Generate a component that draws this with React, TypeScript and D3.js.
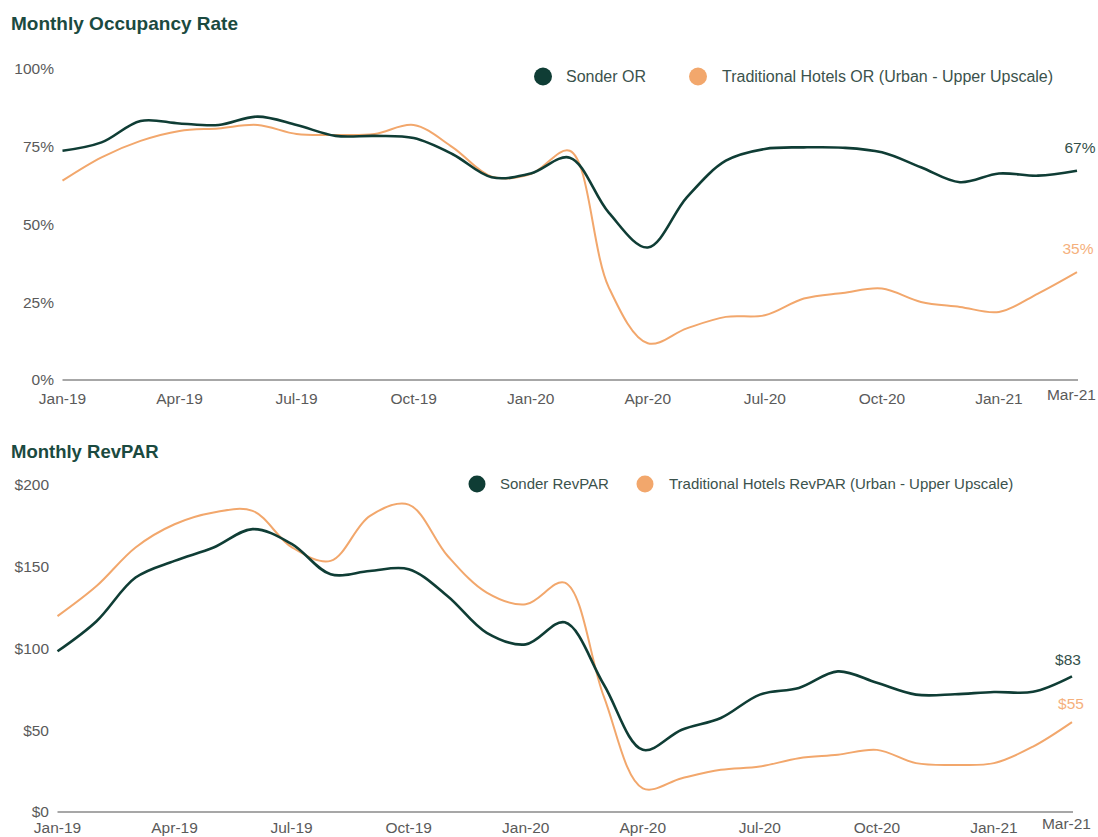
import React from 'react';
import * as d3 from 'd3';

const MONTHS = [
  'Jan-19', 'Feb-19', 'Mar-19', 'Apr-19', 'May-19', 'Jun-19', 'Jul-19', 'Aug-19', 'Sep-19',
  'Oct-19', 'Nov-19', 'Dec-19', 'Jan-20', 'Feb-20', 'Mar-20', 'Apr-20', 'May-20', 'Jun-20',
  'Jul-20', 'Aug-20', 'Sep-20', 'Oct-20', 'Nov-20', 'Dec-20', 'Jan-21', 'Feb-21', 'Mar-21',
];
const TICK_MONTHS = ['Jan-19', 'Apr-19', 'Jul-19', 'Oct-19', 'Jan-20', 'Apr-20', 'Jul-20', 'Oct-20', 'Jan-21', 'Mar-21'];

// occupancy rate, %
const SONDER_OR = [73.7, 76.4, 83.3, 82.5, 82, 84.7, 82, 78.5, 78.5, 77.8, 72.6, 65.2, 66.4, 71.5, 53.8, 42.6, 58.7, 70.5, 74.3, 74.8, 74.7, 73.2, 68.4, 63.6, 66.4, 65.7, 67.3];
const HOTELS_OR = [64.1, 71.6, 76.9, 80.1, 80.9, 82, 79.1, 78.8, 79.1, 82, 74.8, 65.4, 66.2, 73.7, 29.8, 11.8, 16.6, 20.3, 20.8, 26.2, 28, 29.4, 25.1, 23.5, 21.9, 27.8, 34.7];
const OR_TICKS = [0, 25, 50, 75, 100];

// RevPAR, $
const SONDER_REVPAR = [98.3, 116.7, 143.4, 153.6, 161.8, 173, 164, 145.4, 147.4, 148.5, 132, 109.6, 102.5, 116, 78, 38, 50.3, 57.5, 71.8, 75.9, 86, 79, 71.8, 72, 73.4, 73.5, 83];
const HOTELS_REVPAR = [119.8, 138.2, 161.8, 176, 183.2, 184.2, 162, 153.6, 181, 188, 156.6, 134.2, 127, 140.3, 70.7, 14.5, 20.7, 25.8, 27.8, 32.9, 35, 38, 29.9, 28.8, 29.9, 40, 55];
const REVPAR_TICKS = [0, 50, 100, 150, 200];

const DARK = '#0f3d35';
const ORANGE = '#f2a76c';
const FONT = '"Liberation Sans", Arial, Helvetica, sans-serif';

const Panel = ({ title, titleY, titleSize, xRange, yRange, yMax, yTicks, fmt, labelRight, monthDy, dark, light, legend, endLabels, lastLabelFmt }) => {
  const x = d3.scalePoint().domain(MONTHS).range(xRange);
  const y = d3.scaleLinear().domain([0, yMax]).range(yRange);
  const line = d3.line().x((d, i) => x(MONTHS[i])).y(d => y(d)).curve(d3.curveCatmullRom.alpha(0.5));
  const axisY = y(0);
  const lastX = x(MONTHS[MONTHS.length - 1]);

  return (
    <g>
      <text x={11} y={titleY} fontFamily={FONT} fontWeight="bold" fontSize={titleSize} fill="#1b4a40">{title}</text>

      {yTicks.map(t => (
        <text key={t} x={labelRight} y={y(t)} dy="0.35em" textAnchor="end" fontFamily={FONT} fontSize={15.5} fill="#5a5a5a">{fmt(t)}</text>
      ))}

      <line x1={xRange[0]} x2={xRange[1] + 1} y1={axisY} y2={axisY} stroke="#8a8a8a" strokeWidth={1.6} />

      {TICK_MONTHS.map(m => {
        const last = m === 'Mar-21';
        return (
          <text key={m} x={last ? x(m) + 19 : x(m)} y={axisY + (last ? monthDy - 4 : monthDy)} dy="0.35em" textAnchor={last ? 'end' : 'middle'}
            fontFamily={FONT} fontSize={15.5} fill="#5a5a5a">{m}</text>
        );
      })}

      <path d={line(light)} fill="none" stroke={ORANGE} strokeWidth={2} />
      <path d={line(dark)} fill="none" stroke={DARK} strokeWidth={2.6} />

      <text x={lastX + endLabels.dx[0]} y={y(dark[dark.length - 1]) - endLabels.dy[0]} dy="0.35em" textAnchor="middle"
        fontFamily={FONT} fontSize={15.5} fill="#33504a">{lastLabelFmt(dark[dark.length - 1])}</text>
      <text x={lastX + endLabels.dx[1]} y={y(light[light.length - 1]) - endLabels.dy[1]} dy="0.35em" textAnchor="middle"
        fontFamily={FONT} fontSize={15.5} fill="#f5b07c">{lastLabelFmt(light[light.length - 1])}</text>

      <circle cx={legend.x[0]} cy={legend.y} r={legend.r} fill={DARK} />
      <text x={legend.x[0] + 23} y={legend.y} dy="0.35em" fontFamily={FONT} fontSize={legend.size} fill="#3b524c">{legend.labels[0]}</text>
      <circle cx={legend.x[1]} cy={legend.y} r={legend.r} fill={ORANGE} />
      <text x={legend.x[1] + 24} y={legend.y} dy="0.35em" fontFamily={FONT} fontSize={legend.size} fill="#3b524c">{legend.labels[1]}</text>
    </g>
  );
};

export default function App() {
  return (
    <div style={{ position: 'absolute', left: 0, top: 0 }}>
      <svg width={1098} height={837} style={{ display: 'block', background: '#fff' }}>
        <Panel
          title="Monthly Occupancy Rate"
          titleY={30}
          titleSize={19}
          xRange={[62.5, 1077]}
          yRange={[380, 69]}
          yMax={100}
          yTicks={OR_TICKS}
          fmt={t => `${t}%`}
          labelRight={54}
          monthDy={19}
          dark={SONDER_OR}
          light={HOTELS_OR}
          lastLabelFmt={v => `${Math.round(v)}%`}
          endLabels={{ dx: [3, 1], dy: [23, 24] }}
          legend={{ x: [543, 698], y: 76.5, r: 9, size: 16, labels: ['Sonder OR', 'Traditional Hotels OR (Urban - Upper Upscale)'] }}
        />
        <Panel
          title="Monthly RevPAR"
          titleY={458}
          titleSize={18.5}
          xRange={[57.5, 1072]}
          yRange={[812, 485]}
          yMax={200}
          yTicks={REVPAR_TICKS}
          fmt={t => `$${t}`}
          labelRight={49}
          monthDy={16}
          dark={SONDER_REVPAR}
          light={HOTELS_REVPAR}
          lastLabelFmt={v => `$${Math.round(v)}`}
          endLabels={{ dx: [-4, -1], dy: [17, 19] }}
          legend={{ x: [477, 645], y: 484, r: 8.5, size: 15, labels: ['Sonder RevPAR', 'Traditional Hotels RevPAR (Urban - Upper Upscale)'] }}
        />
      </svg>
    </div>
  );
}
